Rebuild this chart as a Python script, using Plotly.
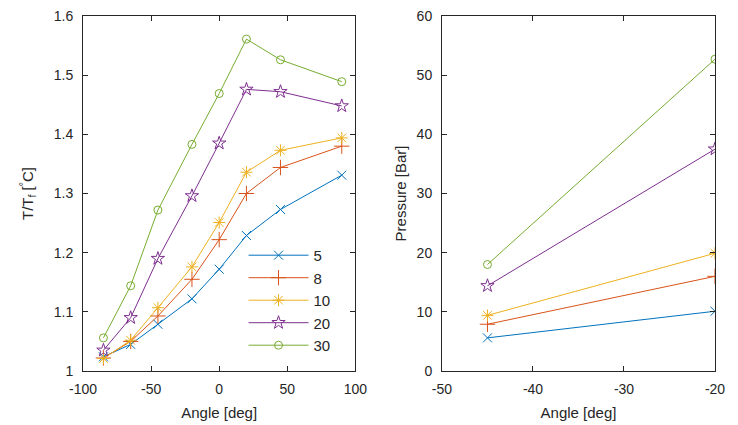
import plotly.graph_objects as go

angles = [-85, -65, -45, -20, 0, 20, 45, 90]
labels = ["5", "8", "10", "20", "30"]
t5 = [1.024, 1.045, 1.079, 1.122, 1.172, 1.229, 1.273, 1.331]
t8 = [1.022, 1.050, 1.093, 1.155, 1.222, 1.300, 1.344, 1.380]
t10 = [1.021, 1.052, 1.107, 1.176, 1.251, 1.336, 1.373, 1.394]
t20 = [1.035, 1.090, 1.190, 1.296, 1.385, 1.476, 1.472, 1.448]
t30 = [1.056, 1.144, 1.272, 1.383, 1.469, 1.561, 1.526, 1.489]

p_angles = [-45, -20]
p5 = [5.6, 10.1]
p8 = [7.9, 16.0]
p10 = [9.4, 19.9]
p20 = [14.4, 37.5]
p30 = [18.0, 52.7]

x1_ticks = [-100, -50, 0, 50, 100]
x1_text = ["-100", "-50", "0", "50", "100"]
y1_ticks = [1, 1.1, 1.2, 1.3, 1.4, 1.5, 1.6]
y1_text = ["1", "1.1", "1.2", "1.3", "1.4", "1.5", "1.6"]
x2_ticks = [-50, -40, -30, -20]
x2_text = ["-50", "-40", "-30", "-20"]
y2_ticks = [0, 10, 20, 30, 40, 50, 60]
y2_text = ["0", "10", "20", "30", "40", "50", "60"]

colors = ["#0072BD", "#D95319", "#EDB120", "#7E2F8E", "#77AC30"]
symbols = ["x-thin-open", "cross-thin-open", "asterisk-open", "star-open", "circle-open"]
sizes = [9, 11, 10, 10, 8]

fig = go.Figure()
for i, ys in enumerate([t5, t8, t10, t20, t30]):
    fig.add_trace(go.Scatter(
        x=angles, y=ys, mode="lines+markers", name=labels[i],
        line=dict(color=colors[i], width=1),
        marker=dict(symbol=symbols[i], size=sizes[i], color=colors[i],
                    line=dict(color=colors[i], width=1)),
        xaxis="x", yaxis="y"))
for i, ys in enumerate([p5, p8, p10, p20, p30]):
    fig.add_trace(go.Scatter(
        x=p_angles, y=ys, mode="lines+markers", name=labels[i], showlegend=False,
        line=dict(color=colors[i], width=1),
        marker=dict(symbol=symbols[i], size=sizes[i], color=colors[i],
                    line=dict(color=colors[i], width=1)),
        xaxis="x2", yaxis="y2"))

axcommon = dict(showline=True, mirror="ticks", linecolor="#262626", linewidth=1,
                ticks="inside", ticklen=5, tickcolor="#262626", showgrid=False,
                zeroline=False, automargin=False, ticklabeloverflow="allow",
                tickfont=dict(size=14, color="#262626"))
font_t = dict(size=15, color="#262626")

fig.update_layout(
    width=738, height=425,
    margin=dict(l=75, r=31, t=8, b=62),
    paper_bgcolor="white", plot_bgcolor="white",
    font=dict(family="Liberation Sans, Arial, sans-serif", color="#262626"),
    xaxis=dict(domain=[0, 0.431], range=[-100, 100], tickvals=x1_ticks, ticktext=x1_text,
               ticklabelstandoff=5,
               title=dict(text="Angle [deg]", font=font_t, standoff=11), anchor="y", **axcommon),
    yaxis=dict(domain=[0, 1], range=[1, 1.6], tickvals=y1_ticks, ticktext=y1_text,
               ticklabelstandoff=6,
               title=dict(text="T/T<sub>f</sub> [<sup>°</sup>C]", font=font_t, standoff=16),
               anchor="x", **axcommon),
    xaxis2=dict(domain=[0.568, 1], range=[-50, -20], tickvals=x2_ticks, ticktext=x2_text,
                ticklabelstandoff=5,
                title=dict(text="Angle [deg]", font=font_t, standoff=11), anchor="y2", **axcommon),
    yaxis2=dict(domain=[0, 1], range=[0, 60], tickvals=y2_ticks, ticktext=y2_text,
                ticklabelstandoff=6,
                title=dict(text="Pressure [Bar]", font=font_t, standoff=6),
                anchor="x2", **axcommon),
    legend=dict(x=0.254, y=0.372, xanchor="left", yanchor="top",
                bgcolor="rgba(255,255,255,0)", borderwidth=0, itemwidth=60,
                font=dict(size=15, color="#262626"), tracegroupgap=0),
    showlegend=True,
)

fig.write_html("out.html")
